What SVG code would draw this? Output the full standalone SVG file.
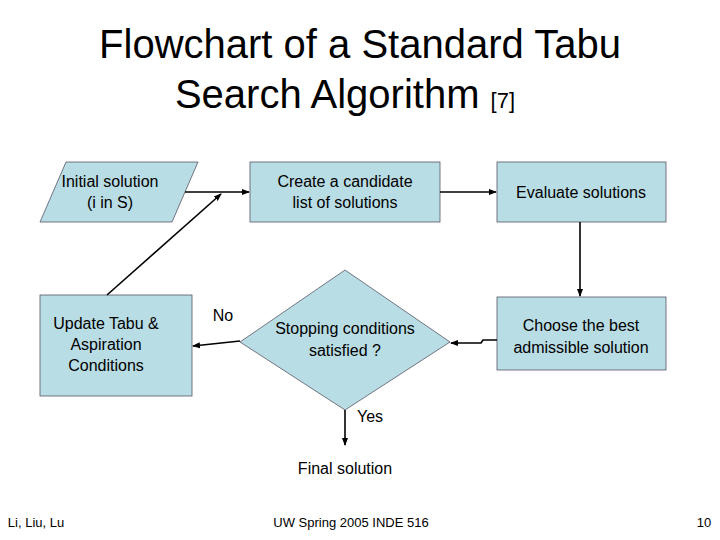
<svg xmlns="http://www.w3.org/2000/svg" width="720" height="540" viewBox="0 0 720 540">
<style>
.n{fill:#B9DDE4;stroke:#556;stroke-width:0.8}
.t{font-family:"Liberation Sans",Arial,sans-serif;font-size:16px;text-anchor:middle;fill:#000}
.c{stroke:#000;stroke-width:1.6;fill:none;marker-end:url(#a)}
</style>
<defs><marker id="a" markerWidth="8" markerHeight="8" refX="7" refY="4" orient="auto" markerUnits="userSpaceOnUse"><path d="M0,1 L8,4 L0,7z" fill="#000"/></marker></defs>
<rect width="720" height="540" fill="#fff"/>
<text class="t" x="360" y="58" style="font-size:40px">Flowchart of a Standard Tabu</text>
<text class="t" x="345" y="108" style="font-size:40px">Search Algorithm <tspan style="font-size:22px">[7]</tspan></text>
<g id="initial"><polygon class="n" points="66,162 198,162 172,222 40,222"/><text class="t" x="110" y="187">Initial solution</text><text class="t" x="110" y="208">(i in S)</text></g>
<g id="create"><rect class="n" x="250" y="162" width="190" height="60"/><text class="t" x="345" y="187">Create a candidate</text><text class="t" x="345" y="208">list of solutions</text></g>
<g id="evaluate"><rect class="n" x="497" y="162" width="169" height="60"/><text class="t" x="581" y="198">Evaluate solutions</text></g>
<g id="update"><rect class="n" x="40" y="295" width="152" height="101"/><text class="t" x="106" y="329">Update Tabu &amp;</text><text class="t" x="106" y="350">Aspiration</text><text class="t" x="106" y="371">Conditions</text></g>
<g id="stop"><polygon class="n" points="345,270 450,342 345,410 240,342"/><text class="t" x="345" y="334">Stopping conditions</text><text class="t" x="345" y="356">satisfied ?</text></g>
<g id="choose"><rect class="n" x="497" y="297" width="169" height="73"/><text class="t" x="581" y="331">Choose the best</text><text class="t" x="581" y="353">admissible solution</text></g>
<g id="final"><text class="t" x="345" y="474">Final solution</text></g>
<g id="connectors">
<path class="c" d="M185,192 H249"/>
<path class="c" d="M107,295 L221,194"/>
<path class="c" d="M440,192 H496"/>
<path class="c" d="M580,222 V296"/>
<path class="c" d="M497,340 H483 L481,343 H451"/>
<path class="c" d="M240,341 L193,346"/>
<path class="c" d="M345,410 V445"/>
<text class="t" x="223" y="321">No</text>
<text class="t" x="370" y="422">Yes</text>
</g>
<text class="t" x="36" y="527" style="font-size:13px">Li, Liu, Lu</text>
<text class="t" x="351" y="527" style="font-size:13px">UW Spring 2005 INDE 516</text>
<text class="t" x="704" y="527" style="font-size:13px">10</text>
</svg>
